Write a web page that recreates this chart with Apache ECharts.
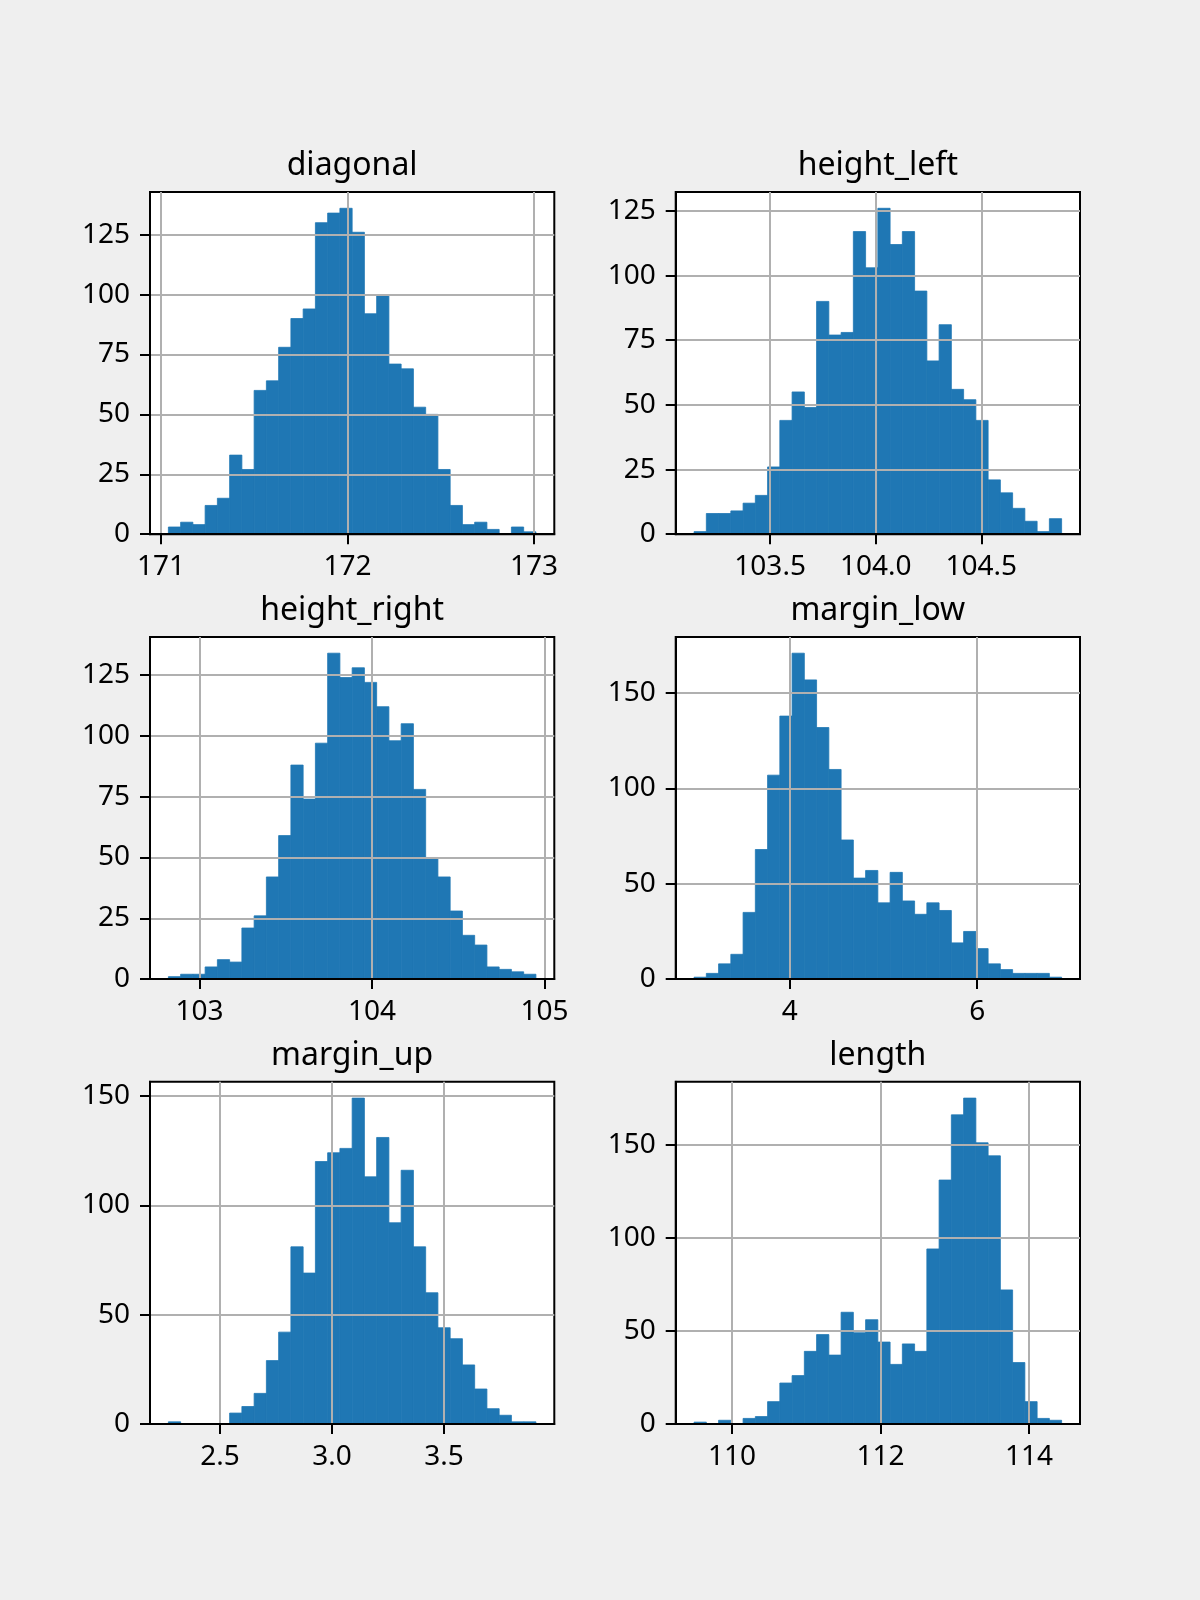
<!DOCTYPE html>
<html lang="en">
<head>
    <meta charset="UTF-8">
    <title>Histograms</title>
    <script src="https://cdn.jsdelivr.net/npm/echarts@6/dist/echarts.min.js"></script>
    <style>
        html, body {
            margin: 0;
            padding: 0;
            background: #efefef;
        }
    </style>
</head>
<body>
<div id="main" style="width: 1200px;height: 1600px"></div>
<script>
    // titles of the six panels
    var titles = ['diagonal', 'height_left', 'height_right', 'margin_low', 'margin_up', 'length'];

    // min / max of each column (30 equal bins between them)
    var diagonalRange = [171.04, 173.01];
    var heightLeftRange = [103.14, 104.88];
    var heightRightRange = [102.82, 104.95];
    var marginLowRange = [2.98, 6.90];
    var marginUpRange = [2.27, 3.91];
    var lengthRange = [109.49, 114.44];

    // bin counts
    var diagonalCounts = [3, 5, 4, 12, 15, 33, 27, 60, 64, 78, 90, 94, 130, 134, 136, 126, 92, 100, 71, 69, 53, 50, 27, 12, 4, 5, 2, 0, 3, 1];
    var heightLeftCounts = [1, 8, 8, 9, 12, 15, 26, 44, 55, 49, 90, 77, 78, 117, 103, 126, 112, 117, 94, 67, 81, 56, 52, 44, 21, 16, 10, 5, 1, 6];
    var heightRightCounts = [1, 2, 2, 5, 8, 7, 21, 26, 42, 59, 88, 74, 97, 134, 124, 128, 122, 112, 98, 105, 78, 50, 42, 28, 18, 14, 5, 4, 3, 2];
    var marginLowCounts = [1, 3, 8, 13, 35, 68, 107, 138, 171, 157, 132, 110, 73, 53, 57, 40, 56, 41, 34, 40, 36, 19, 25, 16, 8, 5, 3, 3, 3, 1];
    var marginUpCounts = [1, 0, 0, 0, 0, 5, 8, 14, 29, 42, 81, 69, 120, 124, 126, 149, 113, 131, 92, 116, 81, 60, 44, 39, 27, 16, 7, 4, 1, 1];
    var lengthCounts = [1, 0, 2, 0, 3, 4, 12, 22, 26, 39, 48, 37, 60, 49, 56, 44, 32, 43, 39, 94, 131, 166, 175, 151, 144, 72, 33, 12, 3, 2];

    // tick values
    var diagonalTicks = [171, 172, 173];
    var heightLeftTicks = [103.5, 104.0, 104.5];
    var heightRightTicks = [103, 104, 105];
    var marginLowTicks = [4, 6];
    var marginUpTicks = [2.5, 3.0, 3.5];
    var lengthTicks = [110, 112, 114];
    var yTicks25 = [0, 25, 50, 75, 100, 125];
    var yTicks50 = [0, 50, 100, 150];

    var panels = [
        {range: diagonalRange, counts: diagonalCounts, xTicks: diagonalTicks, dec: 0, yTicks: yTicks25},
        {range: heightLeftRange, counts: heightLeftCounts, xTicks: heightLeftTicks, dec: 1, yTicks: yTicks25},
        {range: heightRightRange, counts: heightRightCounts, xTicks: heightRightTicks, dec: 0, yTicks: yTicks25},
        {range: marginLowRange, counts: marginLowCounts, xTicks: marginLowTicks, dec: 0, yTicks: yTicks50},
        {range: marginUpRange, counts: marginUpCounts, xTicks: marginUpTicks, dec: 1, yTicks: yTicks50},
        {range: lengthRange, counts: lengthCounts, xTicks: lengthTicks, dec: 0, yTicks: yTicks50}
    ];

    // subplot layout (px)
    var colLeft = [150, 675.7];
    var rowTop = [192, 636.9, 1081.8];
    var axW = 404.3, axH = 342.2;
    var font = 'Noto Sans';

    var myChart = echarts.init(document.getElementById('main'));

    var grid = [], xAxis = [], yAxis = [], series = [], title = [];

    panels.forEach(function (p, i) {
        var left = colLeft[i % 2];
        var top = rowTop[Math.floor(i / 2)];
        var lo = p.range[0], hi = p.range[1];
        var span = hi - lo;
        var bw = span / p.counts.length;
        var data = p.counts.map(function (c, k) {
            return [lo + k * bw, lo + (k + 1) * bw, c];
        });

        grid.push({
            left: left, top: top, width: axW, height: axH,
            show: true, backgroundColor: '#fff', borderColor: '#000', borderWidth: 2
        });

        title.push({
            text: titles[i],
            left: left + axW / 2,
            top: top - 42,
            textAlign: 'center',
            padding: 0,
            textStyle: {fontFamily: font, fontSize: 32, fontWeight: 'normal', color: '#000'}
        });

        xAxis.push({
            type: 'value', gridIndex: i, z: 5,
            min: lo - 0.05 * span,
            max: hi + 0.05 * span,
            axisLine: {show: true, onZero: false, lineStyle: {color: '#000', width: 2}},
            axisTick: {show: true, length: 10, customValues: p.xTicks, lineStyle: {color: '#000', width: 2}},
            axisLabel: {
                customValues: p.xTicks, margin: 19, color: '#000', fontFamily: font, fontSize: 28,
                formatter: (function (d) {
                    return function (v) { return v.toFixed(d); };
                })(p.dec)
            },
            splitLine: {show: true, lineStyle: {color: '#b0b0b0', width: 2}}
        });

        var maxC = Math.max.apply(null, p.counts);
        yAxis.push({
            type: 'value', gridIndex: i, z: 5,
            min: 0,
            max: maxC * 1.05,
            axisLine: {show: true, lineStyle: {color: '#000', width: 2}},
            axisTick: {show: true, length: 10, customValues: p.yTicks, lineStyle: {color: '#000', width: 2}},
            axisLabel: {customValues: p.yTicks, margin: 20, color: '#000', fontFamily: font, fontSize: 28},
            splitLine: {show: true, lineStyle: {color: '#b0b0b0', width: 2}}
        });

        series.push({
            type: 'custom',
            xAxisIndex: i,
            yAxisIndex: i,
            z: 2,
            encode: {x: [0, 1], y: 2},
            renderItem: function (params, api) {
                var p0 = api.coord([api.value(0), 0]);
                var p1 = api.coord([api.value(1), api.value(2)]);
                return {
                    type: 'rect',
                    shape: {x: p0[0], y: p1[1], width: p1[0] - p0[0], height: p0[1] - p1[1]},
                    style: {fill: '#1f77b4', stroke: '#1f77b4', lineWidth: 0.8}
                };
            },
            data: data
        });
    });

    var option = {
        backgroundColor: '#efefef',
        animation: false,
        title: title,
        grid: grid,
        xAxis: xAxis,
        yAxis: yAxis,
        series: series
    };

    myChart.setOption(option);
</script>
</body>
</html>
